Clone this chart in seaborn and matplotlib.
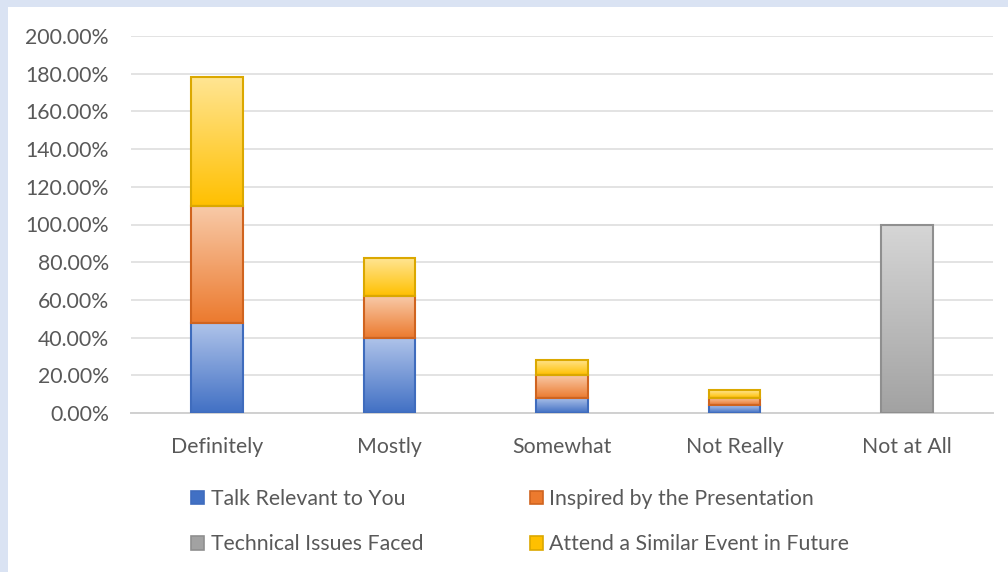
import numpy as np
import pandas as pd
import matplotlib
matplotlib.use("Agg")
import matplotlib.pyplot as plt
import seaborn as sns
from matplotlib.colors import LinearSegmentedColormap
from matplotlib.patches import Patch, Rectangle

# chart data (percent)
categories = ["Definitely", "Mostly", "Somewhat", "Not Really", "Not at All"]
talk_relevant = [48, 40, 8, 4, 0]
inspired = [62, 22, 12, 4, 0]
technical_issues = [0, 0, 0, 0, 100]
attend_again = [68, 20, 8, 4, 0]
series_names = ["Talk Relevant to You", "Inspired by the Presentation",
                "Technical Issues Faced", "Attend a Similar Event in Future"]
y_ticks = [0, 20, 40, 60, 80, 100, 120, 140, 160, 180, 200]

# (top colour, bottom colour, edge colour) for the excel style gradients
styles = {
    "Talk Relevant to You": ("#b0c4ea", "#4170c4", "#3f6cbd"),
    "Inspired by the Presentation": ("#f8caa8", "#ec7a2e", "#d0641f"),
    "Technical Issues Faced": ("#d6d6d6", "#a2a2a2", "#8f8f8f"),
    "Attend a Similar Event in Future": ("#ffe593", "#ffc000", "#dba800"),
}

sns.set_style("white")
plt.rcParams["font.family"] = ["Lato", "DejaVu Sans"]
text_col = "#595959"
fsize = 15.3

fig = plt.figure(figsize=(10.08, 5.72), dpi=100, facecolor="#dae3f3")
fig.patches.append(Rectangle((8 / 1008, 0), 1, 1 - 7 / 572, transform=fig.transFigure,
                             facecolor="white", edgecolor="none", zorder=-5))
ax = fig.add_axes([131 / 1008, 1 - 413 / 572, 862 / 1008, 377 / 572])
ax.set_facecolor("none")

stack_order = [("Talk Relevant to You", talk_relevant),
               ("Inspired by the Presentation", inspired),
               ("Technical Issues Faced", technical_issues),
               ("Attend a Similar Event in Future", attend_again)]

bottom = np.zeros(len(categories))
bar_groups = []
for name, vals in stack_order:
    df = pd.DataFrame({"cat": categories, "val": vals, "bottom": bottom})
    df = df[df["val"] > 0]
    before = len(ax.patches)
    sns.barplot(data=df, x="cat", y="val", order=categories, bottom=df["bottom"].values,
                width=0.3, color=styles[name][1], edgecolor=styles[name][2],
                linewidth=1.5, ax=ax, zorder=3)
    bar_groups.append((name, ax.patches[before:]))
    bottom = bottom + np.array(vals)

# gradient fill clipped to each bar
for name, bars in bar_groups:
    top_c, bot_c, edge_c = styles[name]
    cmap = LinearSegmentedColormap.from_list(name, [bot_c, top_c])
    grad = np.linspace(0, 1, 256).reshape(-1, 1)
    for b in bars:
        x0, y0 = b.get_x(), b.get_y()
        w, h = b.get_width(), b.get_height()
        im = ax.imshow(grad, cmap=cmap, aspect="auto", origin="lower",
                       extent=[x0, x0 + w, y0, y0 + h], zorder=2.5)
        im.set_clip_path(b)
        b.set_facecolor("none")

ax.set_xlim(-0.5, len(categories) - 0.5)
ax.set_ylim(0, 200)
ax.set_yticks(y_ticks)
ax.set_yticklabels([f"{v:.2f}%" for v in y_ticks])
ax.yaxis.grid(True, color="#dedede", linewidth=1.2, zorder=0)
ax.set_axisbelow(True)
ax.set_xlabel("")
ax.set_ylabel("")
ax.tick_params(axis="both", length=0, labelsize=fsize, labelcolor=text_col)
ax.tick_params(axis="y", pad=16)
ax.tick_params(axis="x", pad=17.5)
for side in ["top", "right", "left"]:
    ax.spines[side].set_visible(False)
ax.spines["bottom"].set_color("#d0d0d0")
ax.spines["bottom"].set_linewidth(1.4)

# legend, filled column by column so rows read like the original
handles = {n: Patch(facecolor=styles[n][1], edgecolor=styles[n][2], linewidth=1.2)
           for n in series_names}
leg_order = ["Talk Relevant to You", "Technical Issues Faced",
             "Inspired by the Presentation", "Attend a Similar Event in Future"]
leg = fig.legend([handles[n] for n in leg_order], leg_order, ncol=2, loc="center",
                 bbox_to_anchor=(0.516, 0.088), frameon=False, fontsize=fsize,
                 handlelength=0.62, handleheight=0.62, handletextpad=0.3,
                 columnspacing=5.0, labelspacing=1.2)
for t in leg.get_texts():
    t.set_color(text_col)

fig.savefig("out.png", dpi=100, facecolor=fig.get_facecolor())
